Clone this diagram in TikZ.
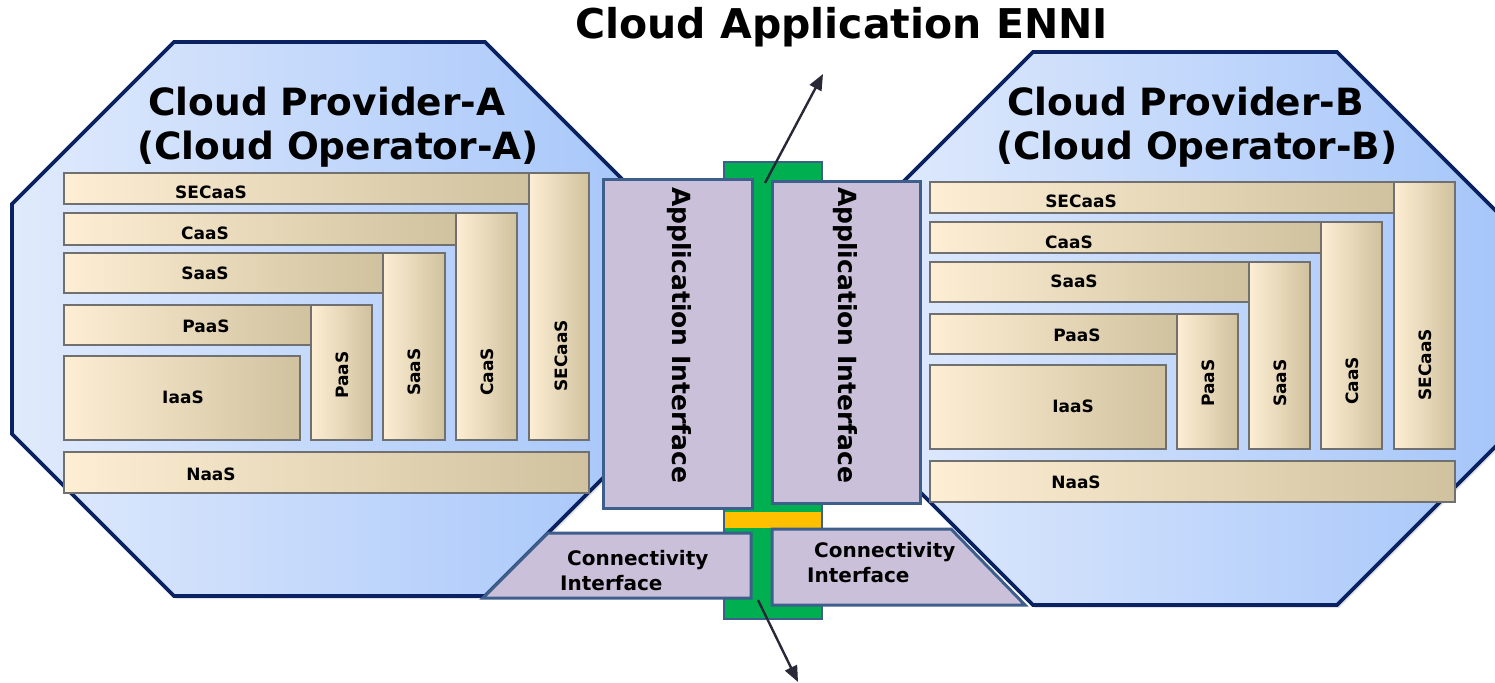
\documentclass[tikz,border=0pt]{standalone}
\usepackage{fontspec}
\setmainfont{DejaVu Sans}
\usetikzlibrary{shadows,arrows.meta}
\definecolor{octL}{RGB}{224,234,252}
\definecolor{octR}{RGB}{166,198,250}
\definecolor{octB}{RGB}{10,34,98}
\definecolor{crL}{RGB}{253,238,212}
\definecolor{crR}{RGB}{208,194,158}
\definecolor{crB}{RGB}{112,112,112}
\definecolor{lav}{RGB}{203,192,218}
\definecolor{lavB}{RGB}{62,94,140}
\definecolor{grn}{RGB}{0,176,80}
\definecolor{ylw}{RGB}{255,192,0}
\definecolor{arrc}{RGB}{40,40,55}
\newcommand\mkbox[5]{\node[cbox, minimum width={#4-#2}, minimum height={#5-#3}] (#1) at ({(#2+#4)/2},{(#3+#5)/2}) {};}
\begin{document}
\begin{tikzpicture}[x=1pt,y=-1pt,
  oct/.style={draw=octB, line width=3.6pt, left color=octL, right color=octR, line join=miter,
    drop shadow={shadow xshift=2pt, shadow yshift=-3pt, opacity=0.22}},
  cbox/.style={draw=crB, line width=1.6pt, left color=crL, right color=crR, inner sep=0pt, outer sep=0pt},
  lbl/.style={font=\fontsize{17}{19}\selectfont\bfseries, inner sep=0pt},
  vlbl/.style={lbl, rotate=90},
  ttl/.style={font=\fontsize{37.5}{42}\selectfont\bfseries, inner sep=0pt, anchor=base west},
  ifbox/.style={draw=lavB, line width=3pt, fill=lav, line join=miter},
  aif/.style={font=\fontsize{25}{28}\selectfont\bfseries, inner sep=0pt, rotate=-90, anchor=west},
  cif/.style={font=\fontsize{20}{24}\selectfont\bfseries, inner sep=0pt, anchor=base west},
  enni/.style={line width=2.4pt, draw=arrc, -{Triangle[length=16pt,width=13pt]}}
]
\useasboundingbox (0,0) rectangle (1495,682);

% octagons
\path[oct] (174,42) -- (485,42) -- (647,204) -- (647,434) -- (485,596) -- (174,596) -- (12,434) -- (12,204) -- cycle;
\path[oct] (1033,52) -- (1337,52) -- (1499,214) -- (1499,443) -- (1337,605) -- (1033,605) -- (871,443) -- (871,214) -- cycle;

% provider titles
\node[ttl] (pA1) at (148,115) {Cloud Provider-A};
\node[ttl] (pA2) at (137,159) {(Cloud Operator-A)};
\node[ttl] (pB1) at (1007,115) {Cloud Provider-B};
\node[ttl] (pB2) at (996,159) {(Cloud Operator-B)};

% left stack
\mkbox{aSECh}{64}{173}{529}{204}
\mkbox{aSECv}{529}{173}{589}{440}
\mkbox{aCaah}{64}{213}{456}{245}
\mkbox{aCaav}{456}{213}{517}{440}
\mkbox{aSaah}{64}{253}{383}{293}
\mkbox{aSaav}{383}{253}{445}{440}
\mkbox{aPaah}{64}{305}{311}{345}
\mkbox{aPaav}{311}{305}{372}{440}
\mkbox{aIaa}{64}{356}{300}{440}
\mkbox{aNaa}{64}{452}{589}{493}
\node[lbl] (aSECht) at (211,192) {SECaaS};
\node[lbl] (aCaaht) at (205,233) {CaaS};
\node[lbl] (aSaaht) at (205,273) {SaaS};
\node[lbl] (aPaaht) at (206,326) {PaaS};
\node[lbl] (aIaat) at (183,397) {IaaS};
\node[lbl] (aNaat) at (211,474) {NaaS};
\node[vlbl] (aPaavt) at (342,375) {PaaS};
\node[vlbl] (aSaavt) at (414,372) {SaaS};
\node[vlbl] (aCaavt) at (487,372) {CaaS};
\node[vlbl] (aSECvt) at (561,356) {SECaaS};

% right stack
\mkbox{bSECh}{930}{182}{1394}{213}
\mkbox{bSECv}{1394}{182}{1455}{449}
\mkbox{bCaah}{930}{222}{1321}{253}
\mkbox{bCaav}{1321}{222}{1382}{449}
\mkbox{bSaah}{930}{262}{1249}{302}
\mkbox{bSaav}{1249}{262}{1310}{449}
\mkbox{bPaah}{930}{314}{1177}{354}
\mkbox{bPaav}{1177}{314}{1238}{449}
\mkbox{bIaa}{930}{365}{1166}{449}
\mkbox{bNaa}{930}{461}{1455}{502}
\node[lbl] (bSECht) at (1081,201) {SECaaS};
\node[lbl] (bCaaht) at (1069,242) {CaaS};
\node[lbl] (bSaaht) at (1074,281) {SaaS};
\node[lbl] (bPaaht) at (1077,335) {PaaS};
\node[lbl] (bIaat) at (1073,406) {IaaS};
\node[lbl] (bNaat) at (1076,482) {NaaS};
\node[vlbl] (bPaavt) at (1208,383) {PaaS};
\node[vlbl] (bSaavt) at (1280,383) {SaaS};
\node[vlbl] (bCaavt) at (1352,381) {CaaS};
\node[vlbl] (bSECvt) at (1425,365) {SECaaS};

% ENNI bar
\path[draw=lavB, line width=2pt, fill=grn] (724,162) rectangle (822,619);
\path[fill=ylw] (725,512) rectangle (821,528);

% application interfaces
\path[ifbox] (603,179) rectangle (752,508);
\path[ifbox] (772,181) rectangle (920,503);
\node[aif] (aApp) at (679,187) {Application Interface};
\node[aif] (bApp) at (845,187) {Application Interface};

% connectivity interfaces
\path[ifbox] (548,533) -- (751,533) -- (751,598) -- (483,598) -- cycle;
\path[ifbox] (772,529) -- (951,529) -- (1025,605) -- (772,605) -- cycle;
\node[cif] (aCon1) at (567,565) {Connectivity};
\node[cif] (aCon2) at (560,590) {Interface};
\node[cif] (bCon1) at (814,557) {Connectivity};
\node[cif] (bCon2) at (807,582) {Interface};

% title and arrows
\node[font=\fontsize{41}{46}\selectfont\bfseries, inner sep=0pt, anchor=base west] (title) at (575,39) {Cloud Application ENNI};
\coordinate (topS) at (765,183);
\coordinate (topE) at (823,74);
\coordinate (botS) at (758,600);
\coordinate (botE) at (798,682);
\draw[enni] (topS) -- (topE);
\draw[enni] (botS) -- (botE);
\end{tikzpicture}
\end{document}
